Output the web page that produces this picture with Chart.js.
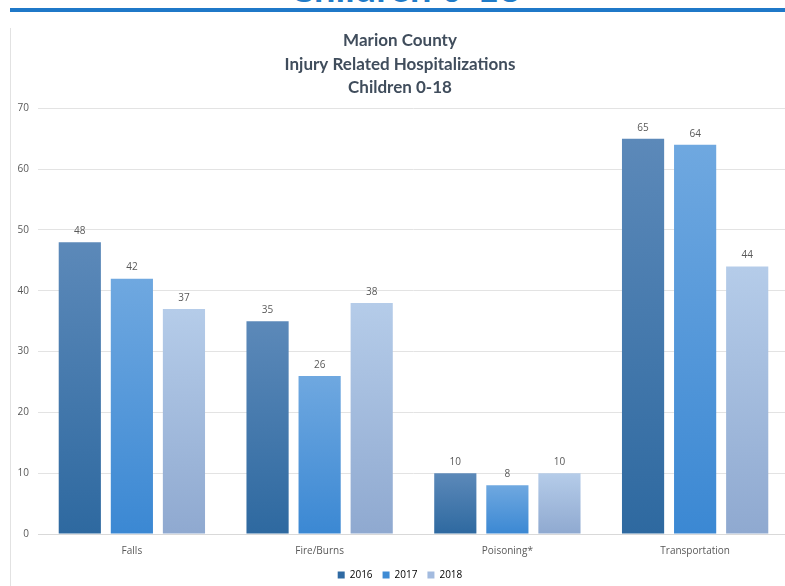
<!DOCTYPE html>
<html>
<head>
<meta charset="utf-8">
<script src="https://cdn.jsdelivr.net/npm/chart.js@4.4.0/dist/chart.umd.min.js"></script>
<style>
  html, body { margin: 0; padding: 0; background: #fff; overflow: hidden; width: 785px; height: 586px; }
  #header { position: absolute; left: 0; top: 0; width: 785px; height: 8px; overflow: hidden; }
  #header span { position: absolute; left: 0; width: 810px; text-align: center; top: -36px;
    font: bold 38px Lato, sans-serif; color: #1f7bc8; }
  #bar { position: absolute; left: 10px; top: 8px; width: 780px; height: 4px; background: #1f78c8; }
  #frame { position: absolute; left: 10px; top: 28px; width: 790px; height: 570px; border-left: 1px solid #e2e2e2; }
  #wrap { position: absolute; left: 0; top: 0; width: 790px; height: 570px; }
</style>
</head>
<body>
<div id="header"><span>Children 0-18</span></div>
<div id="bar"></div>
<div id="frame"><div id="wrap"><canvas id="grafico"></canvas></div></div>
<script>
var categorias = ['Falls', 'Fire/Burns', 'Poisoning*', 'Transportation'];
var anos = ['2016', '2017', '2018'];
var valores2016 = [48, 35, 10, 65];
var valores2017 = [42, 26, 8, 64];
var valores2018 = [37, 38, 10, 44];
var titulo = ['Marion County', 'Injury Related Hospitalizations', 'Children 0-18'];

var cores = [
    {topo: '#5c89b9', base: '#2e69a0', legenda: '#2f6aa3'},
    {topo: '#6fa8e0', base: '#3b88d3', legenda: '#3f8bd4'},
    {topo: '#b5cce9', base: '#8fa9d0', legenda: '#a3bbdf'}
];

function gradiente(i) {
    return function (context) {
        var chart = context.chart;
        var area = chart.chartArea;
        if (!area || context.type !== 'data') return cores[i].legenda;
        var topo = chart.scales.y.getPixelForValue(context.raw);
        var g = chart.ctx.createLinearGradient(0, topo, 0, area.bottom);
        g.addColorStop(0, cores[i].topo);
        g.addColorStop(1, cores[i].base);
        return g;
    };
}

var rotulos = {
    id: 'rotulos',
    afterDatasetsDraw: function (chart) {
        var ctx = chart.ctx;
        ctx.save();
        ctx.font = '10px "Open Sans", sans-serif';
        ctx.fillStyle = '#595959';
        ctx.textAlign = 'center';
        ctx.textBaseline = 'bottom';
        chart.data.datasets.forEach(function (ds, i) {
            chart.getDatasetMeta(i).data.forEach(function (bar, j) {
                ctx.fillText(ds.data[j], bar.x, bar.y - 6);
            });
        });
        ctx.restore();
    }
};

var series = [valores2016, valores2017, valores2018];

new Chart(document.getElementById('grafico'), {
    type: 'bar',
    data: {
        labels: categorias,
        datasets: series.map(function (v, i) {
            return {
                label: anos[i],
                data: v,
                backgroundColor: gradiente(i),
                categoryPercentage: 0.832,
                barPercentage: 0.81
            };
        })
    },
    options: {
        responsive: true,
        maintainAspectRatio: false,
        animation: false,
        layout: { padding: { left: 0, right: 12, top: 0, bottom: 8 } },
        scales: {
            x: {
                grid: { display: false },
                border: { color: '#d9d9d9', width: 1 },
                ticks: { color: '#595959', font: { family: '"Open Sans", sans-serif', size: 10 }, padding: 3 }
            },
            y: {
                min: 0,
                max: 70,
                ticks: { stepSize: 10, color: '#595959', font: { family: '"Open Sans", sans-serif', size: 10 }, padding: 9 },
                grid: { color: '#e3e3e3', drawTicks: false },
                border: { display: false },
                afterFit: function (scale) { scale.width = 27; }
            }
        },
        plugins: {
            title: {
                display: true,
                text: titulo,
                color: '#404d5c',
                font: { family: 'Lato, sans-serif', size: 17, weight: 'bold', lineHeight: 1.38 },
                padding: { top: 1, bottom: 9 }
            },
            legend: {
                position: 'bottom',
                labels: {
                    boxWidth: 7,
                    boxHeight: 7,
                    padding: 10,
                    color: '#595959',
                    font: { family: '"Open Sans", sans-serif', size: 10 },
                    generateLabels: function (chart) {
                        return anos.map(function (a, i) {
                            return { text: a, fillStyle: cores[i].legenda, strokeStyle: cores[i].legenda, lineWidth: 0, datasetIndex: i };
                        });
                    }
                }
            },
            tooltip: { enabled: false }
        }
    },
    plugins: [rotulos]
});
</script>
</body>
</html>
